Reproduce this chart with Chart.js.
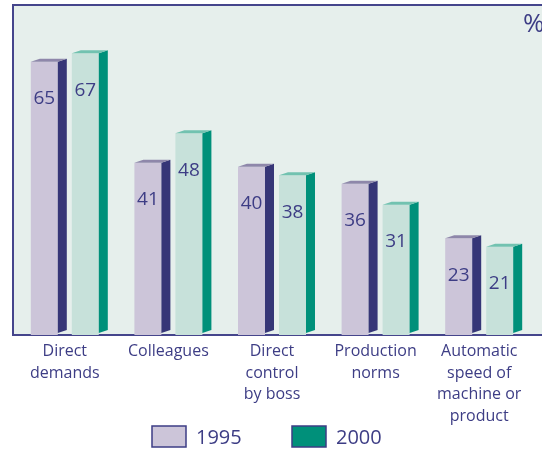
<!DOCTYPE html>
<html>
<head>
<meta charset="utf-8">
<script src="https://cdn.jsdelivr.net/npm/chart.js@4"></script>
<style>
  html, body { margin: 0; padding: 0; background: #ffffff; }
  #wrap { width: 542px; height: 450px; }
</style>
</head>
<body>
<div id="wrap"><canvas id="chart" width="542" height="450"></canvas></div>
<script>
// Datos
const categories = [
    ['Direct', 'demands'],
    ['Colleagues'],
    ['Direct', 'control', 'by boss'],
    ['Production', 'norms'],
    ['Automatic', 'speed of', 'machine or', 'product']
];
const seriesNames = ['1995', '2000'];
const values1995 = [65, 41, 40, 36, 23];
const values2000 = [67, 48, 38, 31, 21];

const navy = '#3d3d85';
const frontColors = ['#ccc5d9', '#c7e1da'];
const sideColors = ['#363677', '#00907a'];
const capColors = ['#8e87aa', '#72c2b0'];
const legendColors = ['#ccc5d9', '#00907a'];

// Plugin para el efecto 3D, etiquetas y leyenda
const bar3d = {
    id: 'bar3d',
    beforeDraw(chart) {
        const { ctx, chartArea: a } = chart;
        ctx.save();
        ctx.fillStyle = '#e6efec';
        ctx.fillRect(a.left, a.top, chart.width - a.left, a.bottom - a.top);
        ctx.strokeStyle = '#45458c';
        ctx.lineWidth = 2;
        ctx.beginPath();
        ctx.moveTo(chart.width, a.bottom);
        ctx.lineTo(a.left, a.bottom);
        ctx.lineTo(a.left, a.top);
        ctx.lineTo(chart.width, a.top);
        ctx.stroke();
        ctx.restore();
    },
    afterDatasetsDraw(chart) {
        const ctx = chart.ctx;
        const dx = 9, dy = 3;
        ctx.save();
        chart.data.datasets.forEach((ds, i) => {
            const meta = chart.getDatasetMeta(i);
            meta.data.forEach((bar, j) => {
                const left = bar.x - bar.width / 2;
                const right = bar.x + bar.width / 2;
                const top = bar.y;
                const base = bar.base - 2;
                // lado
                ctx.fillStyle = sideColors[i];
                ctx.beginPath();
                ctx.moveTo(right, top);
                ctx.lineTo(right + dx, top - dy);
                ctx.lineTo(right + dx, base - dy);
                ctx.lineTo(right, base);
                ctx.closePath();
                ctx.fill();
                // tapa
                ctx.fillStyle = capColors[i];
                ctx.beginPath();
                ctx.moveTo(left, top);
                ctx.lineTo(left + dx, top - dy);
                ctx.lineTo(right + dx, top - dy);
                ctx.lineTo(right, top);
                ctx.closePath();
                ctx.fill();
                // valor
                ctx.fillStyle = navy;
                ctx.font = '19px "Open Sans"';
                ctx.textAlign = 'center';
                ctx.textBaseline = 'middle';
                ctx.fillText(String(ds.data[j]), bar.x, top + 37);
            });
        });
        ctx.restore();
    },
    afterDraw(chart) {
        const ctx = chart.ctx;
        ctx.save();
        // símbolo %
        ctx.fillStyle = navy;
        ctx.font = '26px "Open Sans"';
        ctx.textAlign = 'left';
        ctx.textBaseline = 'alphabetic';
        ctx.fillText('%', 523, 32);
        // leyenda
        const boxX = [152, 292];
        ctx.font = '20px "Open Sans"';
        ctx.textBaseline = 'middle';
        seriesNames.forEach((name, i) => {
            ctx.fillStyle = legendColors[i];
            ctx.fillRect(boxX[i], 426, 34, 21);
            ctx.strokeStyle = navy;
            ctx.lineWidth = 1.5;
            ctx.strokeRect(boxX[i], 426, 34, 21);
            ctx.fillStyle = navy;
            ctx.fillText(name, boxX[i] + 44, 438);
        });
        ctx.restore();
    }
};

const ctx = document.getElementById('chart').getContext('2d');
new Chart(ctx, {
    type: 'bar',
    data: {
        labels: categories,
        datasets: [
            {
                label: seriesNames[0],
                data: values1995,
                backgroundColor: frontColors[0],
                borderWidth: 0
            },
            {
                label: seriesNames[1],
                data: values2000,
                backgroundColor: frontColors[1],
                borderWidth: 0
            }
        ]
    },
    options: {
        responsive: false,
        animation: false,
        layout: { padding: { top: 5, left: 13, right: 11, bottom: 0 } },
        datasets: {
            bar: { barPercentage: 0.6585, categoryPercentage: 0.7915 }
        },
        scales: {
            x: {
                grid: { display: false, drawTicks: false },
                border: { display: false },
                ticks: {
                    color: navy,
                    padding: 6,
                    maxRotation: 0,
                    autoSkip: false,
                    font: { family: '"Open Sans"', size: 16, lineHeight: 1.34 }
                },
                afterFit: s => { s.height = 115; }
            },
            y: {
                display: false,
                min: 0,
                max: 78.5
            }
        },
        plugins: {
            legend: { display: false },
            tooltip: { enabled: false }
        }
    },
    plugins: [bar3d]
});
</script>
</body>
</html>
